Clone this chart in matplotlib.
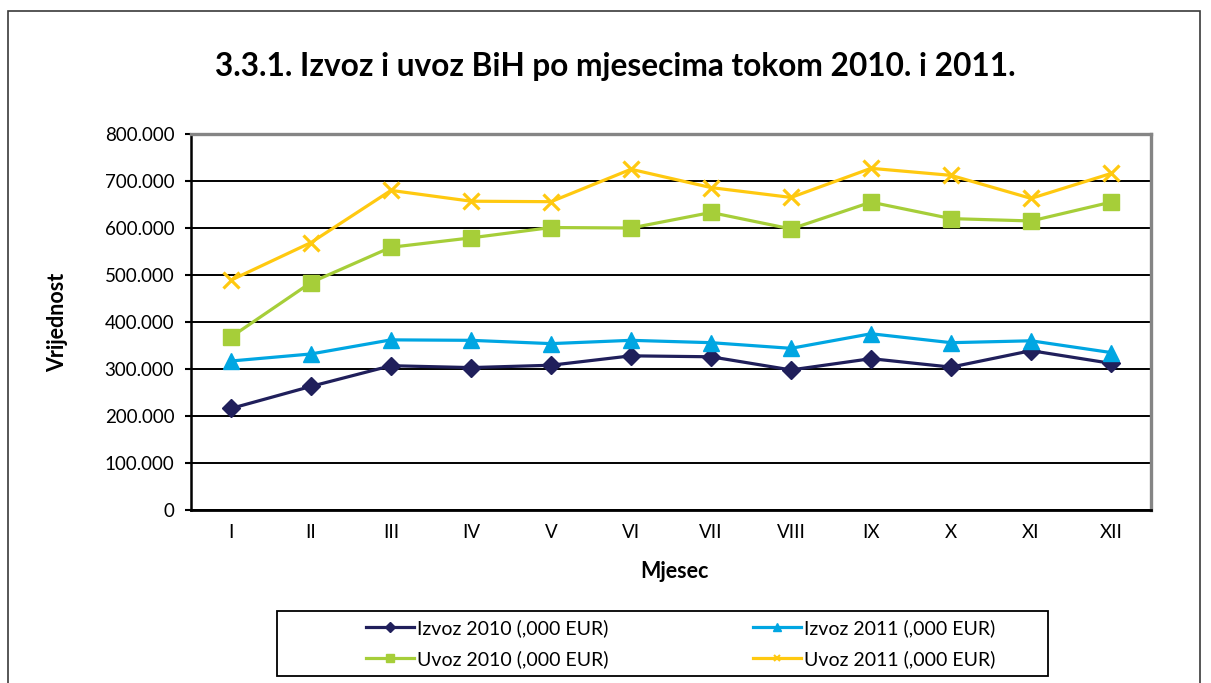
import matplotlib.pyplot as plt
from matplotlib.lines import Line2D
from matplotlib.patches import Rectangle

# Mjeseci
months = ['I', 'II', 'III', 'IV', 'V', 'VI', 'VII', 'VIII', 'IX', 'X', 'XI', 'XII']

# Vrijednosti u ,000 EUR (procjena sa grafika)
izvoz_2010 = [216000, 263000, 307000, 303000, 308000, 328000, 326000, 298000, 322000, 304000, 339000, 312000]
izvoz_2011 = [317000, 332000, 362000, 361000, 354000, 361000, 356000, 344000, 375000, 356000, 360000, 335000]
uvoz_2010 = [368000, 484000, 559000, 579000, 601000, 600000, 633000, 598000, 655000, 620000, 615000, 655000]
uvoz_2011 = [489000, 569000, 680000, 657000, 656000, 725000, 686000, 665000, 727000, 712000, 663000, 716000]

labels = ['Izvoz 2010 (,000 EUR)', 'Izvoz 2011 (,000 EUR)',
          'Uvoz 2010 (,000 EUR)', 'Uvoz 2011 (,000 EUR)']
colors = ['#201F5B', '#00A6E2', '#A6CE39', '#FFC910']

plt.rcParams['font.family'] = ['Lato', 'DejaVu Sans']

fig = plt.figure(figsize=(12.11, 6.83), dpi=100)
ax = fig.add_axes([0.1577, 0.2533, 0.7928, 0.5505])

x = range(len(months))
ax.plot(x, izvoz_2010, color=colors[0], lw=2.3, marker='D', ms=9, zorder=3)
ax.plot(x, izvoz_2011, color=colors[1], lw=2.3, marker='^', ms=12, zorder=3)
ax.plot(x, uvoz_2010, color=colors[2], lw=2.3, marker='s', ms=11, zorder=3)
ax.plot(x, uvoz_2011, color=colors[3], lw=2.3, marker='x', ms=11, mew=2.3, zorder=3)

ax.set_xlim(-0.5, len(months) - 0.5)
ax.set_ylim(0, 800000)
ax.set_yticks(range(0, 800001, 100000))
ax.set_yticklabels(['0'] + [f'{v // 1000}.000' for v in range(100000, 800001, 100000)])
ax.set_xticks(list(x))
ax.set_xticklabels(months)
ax.tick_params(axis='y', length=4, width=1.5, pad=8, labelsize=13.5)
ax.tick_params(axis='x', length=0, pad=10, labelsize=13.5)
ax.grid(axis='y', color='black', lw=1.4)
ax.set_axisbelow(True)

for side in ['top', 'right']:
    ax.spines[side].set_color('#858585')
    ax.spines[side].set_linewidth(2.4)
ax.spines['left'].set_linewidth(1.8)
ax.spines['bottom'].set_linewidth(2)

fig.text(0.508, 0.902, '3.3.1. Izvoz i uvoz BiH po mjesecima tokom 2010. i 2011.',
         ha='center', va='center', fontsize=22.8, fontweight='bold')
fig.text(58 / 1211, 1 - 322 / 683, 'Vrijednost', rotation=90, ha='center', va='center',
         fontsize=15.5, fontweight='bold')
fig.text(674 / 1211, 1 - 572 / 683, 'Mjesec', ha='center', va='center',
         fontsize=15.5, fontweight='bold')

# Legenda (redoslijed po kolonama)
handles = [
    Line2D([], [], color=colors[0], lw=2.3, marker='D', ms=5),
    Line2D([], [], color=colors[2], lw=2.3, marker='s', ms=6),
    Line2D([], [], color=colors[1], lw=2.3, marker='^', ms=6),
    Line2D([], [], color=colors[3], lw=2.3, marker='x', ms=5, mew=1.5),
]
leg_labels = [labels[0], labels[2], labels[1], labels[3]]
fig.legend(handles, leg_labels, ncol=2, loc='center', bbox_to_anchor=(0.562, 0.0578),
           frameon=False, fontsize=14, handlelength=2.5, handletextpad=0.15,
           columnspacing=7.4, labelspacing=0.7)
fig.patches.append(Rectangle((277 / 1211, 1 - 676 / 683), 771 / 1211, 65 / 683,
                             transform=fig.transFigure, fill=False, ec='black', lw=1.3))

# Okvir
fig.patches.append(Rectangle((8 / 1211, -0.05), 1192 / 1211, 1.05 - 11 / 683,
                             transform=fig.transFigure, fill=False, ec='#3a3a3a', lw=1.2))

fig.savefig('out.png', dpi=100)
